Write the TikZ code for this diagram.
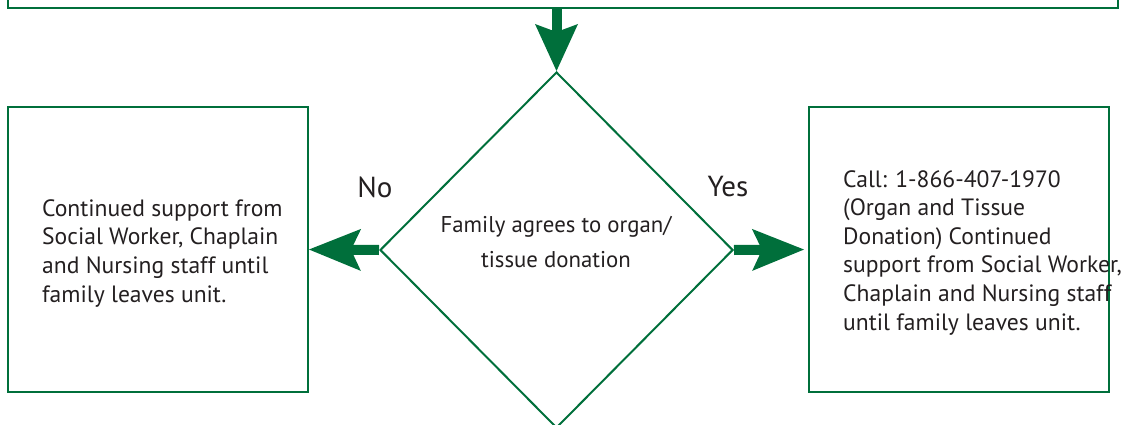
\documentclass[tikz,border=0pt]{standalone}
\usepackage{fontspec}
\setmainfont{PT Sans}
\usetikzlibrary{arrows.meta,shapes.geometric}
\definecolor{dgreen}{RGB}{0,111,59}
\definecolor{ink}{RGB}{35,31,32}
\begin{document}
\begin{tikzpicture}[x=1pt,y=-1pt,
  box/.style={draw=dgreen,line width=2pt,rectangle,inner sep=0pt},
  boxtext/.style={text=ink,font=\fontsize{23.6}{28.6}\selectfont,align=left,inner sep=0pt,anchor=base west},
  dtext/.style={text=ink,font=\fontsize{22.8}{35}\selectfont,align=center,inner sep=0pt},
  yesno/.style={text=ink,font=\fontsize{29}{34}\selectfont,inner sep=0pt},
  bigarrow/.style={draw=dgreen,line width=10pt,-{Stealth[length=52pt,width=42pt,inset=10pt,line width=0pt]}},
  downarrow/.style={draw=dgreen,line width=10pt,-{Stealth[length=47pt,width=43pt,inset=8pt,line width=0pt]}}
]
\useasboundingbox (0,0) rectangle (1121,425);
\clip (0,0) rectangle (1121,425);

\node[box,minimum width=1110pt,minimum height=60pt] (top) at (563,-22) {};
\node[box,minimum width=300pt,minimum height=285pt] (lb) at (158,249.5) {};
\node[box,minimum width=300pt,minimum height=285pt] (rb) at (959,249.5) {};
\node[draw=dgreen,line width=2pt,diamond,minimum width=353pt,minimum height=356pt,inner sep=0pt] (d) at (556.5,250) {};

\node[dtext] (dq) at (556,242) {Family agrees to organ/\\tissue donation};
\node[boxtext] (lt) at (42,302) {Continued support from\\Social Worker, Chaplain\\and Nursing staff until\\family leaves unit.};
\node[boxtext] (rt) at (843,330) {Call: 1-866-407-1970\\(Organ and Tissue\\Donation) Continued\\support from Social Worker,\\Chaplain and Nursing staff\\until family leaves unit.};

\node[yesno] (no) at (375,187) {No};
\node[yesno] (yes) at (728,187) {Yes};

\draw[downarrow] (top.south -| d.north) -- (d.north);
\draw[bigarrow] (d.west) -- (lb.east);
\draw[bigarrow,shorten >=4pt] (d.east) -- (rb.west);
\end{tikzpicture}
\end{document}
